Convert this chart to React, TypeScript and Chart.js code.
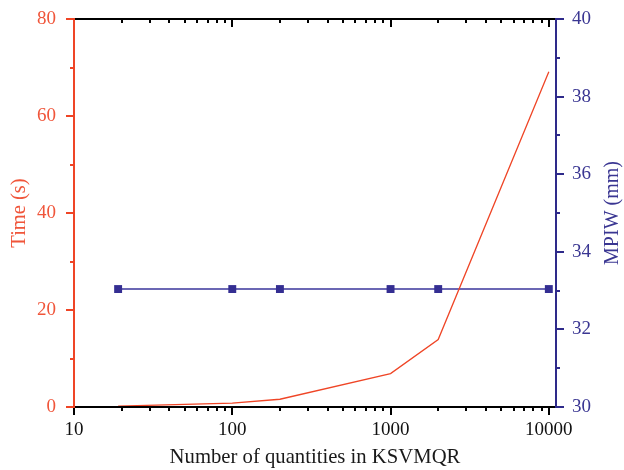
import React, { useEffect, useRef } from 'react';
import { Chart, registerables } from 'chart.js';

Chart.register(...registerables);

// ---- data ----
const quantities = [19, 100, 200, 1000, 2000, 10000];
const timeSeconds = [0.2, 0.8, 1.6, 6.9, 13.9, 69.1];
const mpiwMm = [33.04, 33.04, 33.04, 33.04, 33.04, 33.04];
const xTickLabels = [10, 100, 1000, 10000];
const timeTicks = [0, 20, 40, 60, 80];
const mpiwTicks = [30, 32, 34, 36, 38, 40];

const RED = '#EF4526';
const RED_TEXT = '#F0553A';
const BLUE = '#2E2A8A';
const BLUE_TEXT = '#3A3692';
const BLUE_LINE = '#6B67B4';
const FONT = "'Liberation Serif', 'Times New Roman', serif";

const zeroPad = (s: any) => {
  s.paddingTop = 0;
  s.paddingBottom = 0;
  s.paddingLeft = 0;
  s.paddingRight = 0;
};

const axesPlugin = {
  id: 'customAxes',
  afterDatasetsDraw(chart: any) {
    const { ctx, chartArea: a, scales } = chart;
    const xs = scales.x;
    const ys = scales.y;
    const y1s = scales.y1;
    ctx.save();
    ctx.lineCap = 'butt';
    ctx.lineWidth = 2;

    // black top and bottom axes
    ctx.strokeStyle = '#000';
    ctx.beginPath();
    ctx.moveTo(a.left, a.bottom);
    ctx.lineTo(a.right, a.bottom);
    ctx.moveTo(a.left, a.top);
    ctx.lineTo(a.right, a.top);
    ctx.stroke();

    // log ticks (major at decades, minor between)
    ctx.beginPath();
    for (let d = 10; d <= 10000; d *= 10) {
      for (let m = 1; m <= 9; m++) {
        const v = d * m;
        if (v > 10000) break;
        const px = Math.round(xs.getPixelForValue(v));
        const len = m === 1 ? 8 : 4;
        ctx.moveTo(px, a.bottom);
        ctx.lineTo(px, a.bottom + len);
        ctx.moveTo(px, a.top);
        ctx.lineTo(px, a.top + len);
      }
    }
    ctx.stroke();

    // left red axis
    ctx.strokeStyle = RED;
    ctx.beginPath();
    ctx.moveTo(a.left, a.top - 1);
    ctx.lineTo(a.left, a.bottom + 1);
    for (let v = 0; v <= 80; v += 10) {
      const py = Math.round(ys.getPixelForValue(v));
      const len = v % 20 === 0 ? 8 : 4;
      ctx.moveTo(a.left, py);
      ctx.lineTo(a.left - len, py);
    }
    ctx.stroke();

    // right blue axis
    ctx.strokeStyle = BLUE;
    ctx.beginPath();
    ctx.moveTo(a.right, a.top - 1);
    ctx.lineTo(a.right, a.bottom + 1);
    for (let v = 30; v <= 40; v += 1) {
      const py = Math.round(y1s.getPixelForValue(v));
      const len = v % 2 === 0 ? 8 : 4;
      ctx.moveTo(a.right, py);
      ctx.lineTo(a.right + len, py);
    }
    ctx.stroke();

    // right axis title, reading bottom to top
    ctx.fillStyle = BLUE_TEXT;
    ctx.font = `20px ${FONT}`;
    ctx.textAlign = 'center';
    ctx.textBaseline = 'middle';
    ctx.translate(y1s.right - 11.5, (a.top + a.bottom) / 2);
    ctx.rotate(-Math.PI / 2);
    ctx.fillText('MPIW (mm)', 0, 0);
    ctx.restore();
  },
};

export default function App() {
  const ref = useRef<HTMLCanvasElement | null>(null);

  useEffect(() => {
    if (!ref.current) return;
    const chart = new Chart(ref.current, {
      type: 'line',
      data: {
        datasets: [
          {
            label: 'Time (s)',
            data: quantities.map((q, i) => ({ x: q, y: timeSeconds[i] })),
            yAxisID: 'y',
            borderColor: RED,
            borderWidth: 1.3,
            pointRadius: 0,
            tension: 0,
            fill: false,
          },
          {
            label: 'MPIW (mm)',
            data: quantities.map((q, i) => ({ x: q, y: mpiwMm[i] })),
            yAxisID: 'y1',
            borderColor: BLUE_LINE,
            borderWidth: 2,
            pointStyle: 'rect',
            pointRadius: 5.6,
            pointBorderWidth: 0,
            pointBackgroundColor: '#342E92',
            pointBorderColor: '#342E92',
            tension: 0,
            fill: false,
          },
        ],
      },
      options: {
        responsive: false,
        animation: false,
        layout: { padding: { top: 19, left: 0, right: 0, bottom: 0 } },
        plugins: { legend: { display: false }, tooltip: { enabled: false } },
        scales: {
          x: {
            type: 'logarithmic',
            position: 'bottom',
            min: 10,
            max: 11100,
            grid: { display: false, drawTicks: false },
            border: { display: false },
            afterBuildTicks: (s: any) => {
              s.ticks = xTickLabels.map((v) => ({ value: v }));
            },
            afterFit: (s: any) => {
              s.height = 63;
              zeroPad(s);
            },
            ticks: {
              autoSkip: false,
              maxRotation: 0,
              padding: 12,
              color: '#111',
              font: { family: FONT, size: 19 },
              callback: (v: any) => String(v),
            },
            title: {
              display: true,
              text: 'Number of quantities in KSVMQR',
              color: '#1a1a1a',
              font: { family: FONT, size: 20.7 },
              padding: { top: 0, bottom: 0 },
            },
          },
          y: {
            type: 'linear',
            position: 'left',
            min: 0,
            max: 80,
            grid: { display: false, drawTicks: false },
            border: { display: false },
            afterBuildTicks: (s: any) => {
              s.ticks = timeTicks.map((v) => ({ value: v }));
            },
            afterFit: (s: any) => {
              s.width = 74;
              zeroPad(s);
            },
            ticks: {
              padding: 18,
              color: RED_TEXT,
              font: { family: FONT, size: 19 },
            },
            title: {
              display: true,
              text: 'Time (s)',
              color: RED_TEXT,
              font: { family: FONT, size: 20.5 },
              padding: { top: 7, bottom: 0 },
            },
          },
          y1: {
            type: 'linear',
            position: 'right',
            min: 30,
            max: 40,
            grid: { display: false, drawTicks: false },
            border: { display: false },
            afterBuildTicks: (s: any) => {
              s.ticks = mpiwTicks.map((v) => ({ value: v }));
            },
            afterFit: (s: any) => {
              s.width = 68;
              zeroPad(s);
            },
            ticks: {
              padding: 16,
              color: BLUE_TEXT,
              font: { family: FONT, size: 19 },
            },
          },
        },
      },
      plugins: [axesPlugin],
    });
    return () => chart.destroy();
  }, []);

  return (
    <div style={{ position: 'absolute', left: 0, top: 0, width: 624, height: 470 }}>
      <canvas ref={ref} width={624} height={470} style={{ display: 'block' }} />
    </div>
  );
}
